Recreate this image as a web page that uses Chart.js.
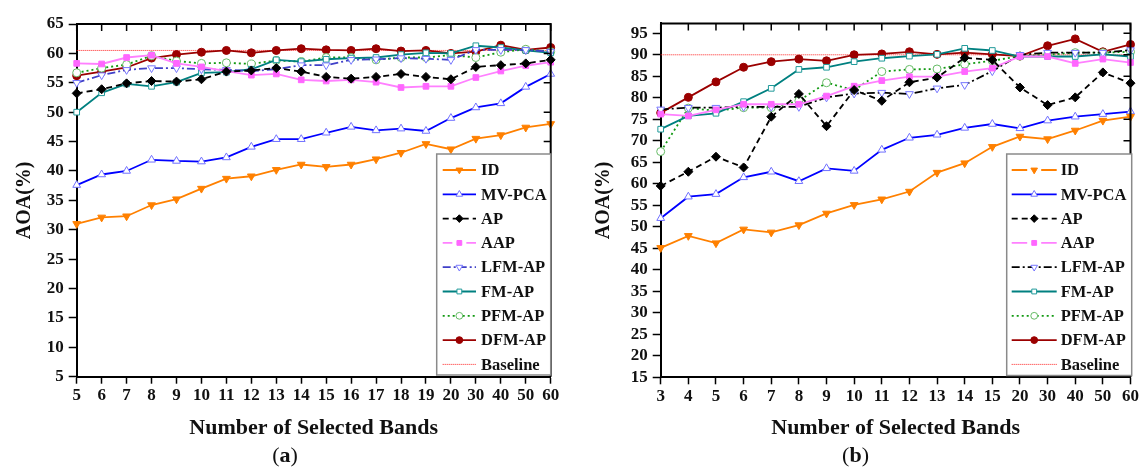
<!DOCTYPE html>
<html>
<head>
<meta charset="utf-8">
<script src="https://cdn.jsdelivr.net/npm/chart.js@4"></script>
<style>
  body { margin: 0; background: #fff; width: 1141px; height: 470px; position: relative; overflow: hidden;
         font-family: 'Liberation Serif', serif; color: #111; }
  .panel { position: absolute; top: 0; height: 470px; }
  #pa { left: 0; width: 570px; }
  #pb { left: 570px; width: 571px; }
  .cap { position: absolute; left: 0; top: 443px; width: 100%; text-align: center; font-size: 22px; line-height: 24px; }
</style>
</head>
<body>
<div class="panel" id="pa"><canvas id="chartA"></canvas><div class="cap">(<b>a</b>)</div></div>
<div class="panel" id="pb"><canvas id="chartB"></canvas><div class="cap">(<b>b</b>)</div></div>
<script>
// (a) band counts and AOA values
var catsA = ['5', '6', '7', '8', '9', '10', '11', '12', '13', '14', '15', '16', '17', '18', '19', '20', '30', '40', '50', '60'];
var ticksA = [5, 10, 15, 20, 25, 30, 35, 40, 45, 50, 55, 60, 65];
var idA    = [31.0, 32.1, 32.3, 34.2, 35.2, 37.0, 38.7, 39.1, 40.2, 41.1, 40.7, 41.1, 42.0, 43.1, 44.6, 43.7, 45.5, 46.1, 47.4, 48.0];
var mvpcaA = [37.6, 39.4, 40.0, 41.9, 41.7, 41.6, 42.3, 44.1, 45.4, 45.4, 46.5, 47.5, 46.9, 47.2, 46.8, 49.0, 50.8, 51.5, 54.3, 56.5];
var apA    = [53.2, 53.9, 54.9, 55.3, 55.2, 55.6, 56.9, 57.1, 57.5, 56.9, 56.0, 55.7, 56.0, 56.5, 56.0, 55.6, 57.7, 58.0, 58.3, 58.9];
var aapA   = [58.3, 58.2, 59.3, 59.7, 58.3, 57.7, 57.0, 56.3, 56.5, 55.5, 55.3, 55.5, 55.1, 54.2, 54.4, 54.4, 55.9, 57.0, 57.9, 58.5];
var lfmA   = [55.0, 56.3, 57.2, 57.5, 57.5, 57.3, 57.2, 57.0, 57.3, 58.0, 58.0, 58.9, 59.0, 59.2, 59.1, 58.9, 60.6, 60.6, 60.6, 60.3];
var fmA    = [50.0, 53.3, 54.8, 54.4, 55.1, 56.7, 56.8, 57.3, 58.9, 58.6, 59.0, 59.2, 59.3, 59.8, 60.1, 60.0, 61.3, 61.0, 60.5, 60.1];
var pfmA   = [56.7, 57.5, 58.1, 59.6, 58.7, 58.3, 58.4, 58.2, 58.8, 58.6, 59.3, 59.3, 58.9, 59.3, 59.3, 59.7, 59.3, 60.2, 60.7, 60.3];
var dfmA   = [56.2, 56.9, 57.6, 59.2, 59.8, 60.2, 60.5, 60.1, 60.5, 60.8, 60.6, 60.5, 60.8, 60.4, 60.5, 60.0, 60.3, 61.4, 60.6, 61.0];
var baseA  = [60.5, 60.5, 60.5, 60.5, 60.5, 60.5, 60.5, 60.5, 60.5, 60.5, 60.5, 60.5, 60.5, 60.5, 60.5, 60.5, 60.5, 60.5, 60.5, 60.5];

// (b)
var catsB = ['3', '4', '5', '6', '7', '8', '9', '10', '11', '12', '13', '14', '15', '20', '30', '40', '50', '60'];
var ticksB = [15, 20, 25, 30, 35, 40, 45, 50, 55, 60, 65, 70, 75, 80, 85, 90, 95];
var idB    = [45.1, 47.9, 46.2, 49.4, 48.7, 50.4, 53.1, 55.1, 56.4, 58.2, 62.6, 64.8, 68.6, 71.0, 70.4, 72.4, 74.7, 75.6];
var mvpcaB = [52.0, 57.0, 57.6, 61.5, 62.8, 60.6, 63.6, 63.0, 67.9, 70.7, 71.4, 73.0, 73.9, 72.9, 74.7, 75.6, 76.2, 76.8];
var apB    = [59.5, 62.8, 66.3, 63.8, 75.6, 80.9, 73.4, 81.8, 79.3, 83.6, 84.7, 89.3, 88.8, 82.4, 78.3, 80.1, 85.9, 83.4];
var aapB   = [76.2, 75.8, 77.2, 78.5, 78.5, 78.5, 80.4, 82.7, 84.0, 84.9, 84.9, 86.1, 86.9, 89.6, 89.6, 88.0, 89.0, 88.2];
var lfmB   = [77.3, 77.7, 77.7, 77.9, 77.9, 77.9, 80.1, 81.0, 81.2, 80.9, 82.2, 83.0, 86.2, 90.0, 90.5, 90.5, 90.5, 91.1];
var fmB    = [72.7, 75.8, 76.4, 79.1, 82.2, 86.6, 87.1, 88.4, 89.2, 89.7, 90.1, 91.5, 91.0, 89.6, 89.6, 89.6, 90.1, 89.6];
var pfmB   = [67.5, 77.6, 77.0, 77.7, 77.7, 79.3, 83.5, 81.8, 86.1, 86.6, 86.7, 87.8, 88.6, 89.7, 90.0, 90.5, 90.5, 90.7];
var dfmB   = [76.5, 80.1, 83.7, 87.1, 88.4, 89.0, 88.6, 90.0, 90.2, 90.7, 90.1, 90.5, 90.1, 89.7, 92.1, 93.7, 90.7, 92.4];
var baseB  = [90, 90, 90, 90, 90, 90, 90, 90, 90, 90, 90, 90, 90, 90, 90, 90, 90, 90];

var serif = "'Liberation Serif', 'Times New Roman', serif";

function line(label, data, color, dash, style, pointColor, hollow, radius, rotation) {
    return {
        label: label,
        data: data,
        borderColor: color,
        borderWidth: 1.8,
        borderDash: dash,
        pointStyle: style,
        pointRotation: rotation || 0,
        pointRadius: radius,
        pointBorderWidth: 1,
        pointBorderColor: pointColor,
        pointBackgroundColor: hollow ? '#fff' : pointColor,
        fill: false,
        tension: 0
    };
}

function datasetsA() {
    var d = [
        line('ID', idA, '#ff8000', [], 'triangle', '#ff8000', false, 4.5, 180),
        line('MV-PCA', mvpcaA, '#0000ff', [], 'triangle', '#7070ff', true, 4.5),
        line('AP', apA, '#000', [6, 4], 'rectRot', '#000', false, 4.5),
        line('AAP', aapA, '#ff80ff', [], 'rect', '#ff66ff', false, 4),
        line('LFM-AP', lfmA, '#4040c8', [8, 3, 2, 3], 'triangle', '#7777ff', true, 4.5, 180),
        line('FM-AP', fmA, '#008080', [], 'rect', '#209a9a', true, 4),
        line('PFM-AP', pfmA, '#119911', [2, 3], 'circle', '#66bb66', true, 4),
        line('DFM-AP', dfmA, '#9b0000', [], 'circle', '#9b0000', false, 4),
        line('Baseline', baseA, '#ff2020', [1, 1], 'circle', '#ff2020', false, 0)
    ];
    d[3].legendGap = 7;
    d[8].borderWidth = 1;
    return d;
}

function datasetsB() {
    var d = [
        line('ID', idB, '#ff8000', [], 'triangle', '#ff8000', false, 4.5, 180),
        line('MV-PCA', mvpcaB, '#0000ff', [], 'triangle', '#7070ff', true, 4.5),
        line('AP', apB, '#000', [6, 4], 'rectRot', '#000', false, 4.5),
        line('AAP', aapB, '#ff80ff', [], 'rect', '#ff66ff', false, 4),
        line('LFM-AP', lfmB, '#000', [8, 3, 2, 3], 'triangle', '#7777ff', true, 4.5, 180),
        line('FM-AP', fmB, '#008080', [], 'rect', '#209a9a', true, 4),
        line('PFM-AP', pfmB, '#119911', [2, 3], 'circle', '#66bb66', true, 4),
        line('DFM-AP', dfmB, '#9b0000', [], 'circle', '#9b0000', false, 4),
        line('Baseline', baseB, '#ff2020', [1, 1], 'circle', '#ff2020', false, 0)
    ];
    d[0].legendGap = 7;
    d[3].legendGap = 7;
    d[8].borderWidth = 1;
    return d;
}

// closed frame with inward ticks on top and right, plus the boxed legend
var framePlugin = {
    id: 'frame',
    afterDatasetsDraw: function (chart) {
        var ctx = chart.ctx, a = chart.chartArea;
        var xs = chart.scales.x, ys = chart.scales.y;
        ctx.save();
        ctx.strokeStyle = '#000';
        ctx.lineWidth = 2;
        ctx.beginPath();
        ctx.moveTo(a.left, a.top);
        ctx.lineTo(a.right, a.top);
        ctx.lineTo(a.right, a.bottom);
        ctx.stroke();
        ctx.lineWidth = 1.5;
        ctx.beginPath();
        xs.ticks.forEach(function (t, i) {
            var x = xs.getPixelForTick(i);
            ctx.moveTo(x, a.top);
            ctx.lineTo(x, a.top + 7);
        });
        ys.ticks.forEach(function (t) {
            var y = ys.getPixelForValue(t.value);
            ctx.moveTo(a.right, y);
            ctx.lineTo(a.right - 7, y);
        });
        ctx.stroke();

        var L = chart.options.plugins.frame;
        ctx.fillStyle = '#fff';
        ctx.fillRect(L.x, L.y, L.w, L.h);
        ctx.strokeStyle = '#8a8a8a';
        ctx.lineWidth = 1.5;
        ctx.strokeRect(L.x, L.y, L.w, L.h);
        ctx.font = 'bold 16.5px ' + serif;
        ctx.textBaseline = 'middle';
        chart.data.datasets.forEach(function (ds, i) {
            var y = L.first + i * L.step;
            var xm = (L.s0 + L.s1) / 2;
            ctx.strokeStyle = ds.borderColor;
            ctx.lineWidth = ds.borderWidth;
            ctx.setLineDash(ds.borderDash);
            ctx.beginPath();
            if (ds.legendGap) {
                ctx.moveTo(L.s0, y); ctx.lineTo(xm - ds.legendGap, y);
                ctx.moveTo(xm + ds.legendGap, y); ctx.lineTo(L.s1, y);
            } else {
                ctx.moveTo(L.s0, y); ctx.lineTo(L.s1, y);
            }
            ctx.stroke();
            ctx.setLineDash([]);
            if (ds.pointRadius > 0) {
                ctx.fillStyle = ds.pointBackgroundColor;
                ctx.strokeStyle = ds.pointBorderColor;
                ctx.lineWidth = 1;
                Chart.helpers.drawPoint(ctx, {
                    pointStyle: ds.pointStyle, rotation: ds.pointRotation,
                    radius: ds.pointRadius * 0.85, borderWidth: 1
                }, xm, y);
            }
            ctx.fillStyle = '#111';
            ctx.fillText(ds.label, L.tx, y + 1);
        });
        ctx.restore();
    }
};

function makeChart(id, cats, datasets, yTicks, yMin, yMax, geo) {
    var tickFont = { family: serif, size: 17, weight: 'bold' };
    return new Chart(document.getElementById(id).getContext('2d'), {
        type: 'line',
        data: { labels: cats, datasets: datasets },
        plugins: [framePlugin],
        options: {
            responsive: true,
            maintainAspectRatio: false,
            animation: false,
            layout: { padding: { left: 0, top: geo.top, right: geo.right, bottom: 0 } },
            plugins: {
                legend: { display: false },
                tooltip: { enabled: false },
                frame: geo.legend
            },
            scales: {
                x: {
                    grid: { drawOnChartArea: false, tickLength: 7, tickColor: '#000', tickWidth: 1.5 },
                    border: { color: '#000', width: 2 },
                    ticks: { font: tickFont, color: '#111', padding: 2, maxRotation: 0, autoSkip: false },
                    title: {
                        display: true, text: 'Number of Selected Bands', color: '#111',
                        font: { family: serif, size: 22, weight: 'bold' },
                        padding: { top: 0, bottom: 28 }
                    },
                    afterFit: function (s) { s.height = geo.xHeight; }
                },
                y: {
                    min: yMin,
                    max: yMax,
                    grid: { drawOnChartArea: false, tickLength: 8, tickColor: '#000', tickWidth: 1.5 },
                    border: { color: '#000', width: 2 },
                    ticks: { font: tickFont, color: '#111', padding: 5, autoSkip: false },
                    afterBuildTicks: function (s) {
                        s.ticks = yTicks.map(function (v) { return { value: v }; });
                    },
                    title: {
                        display: true, text: 'AOA(%)', color: '#111',
                        font: { family: serif, size: 20, weight: 'bold' },
                        padding: { top: geo.yTitle, bottom: 0 }
                    },
                    afterFit: function (s) { s.width = geo.yWidth; }
                }
            }
        }
    });
}

window.chartA = makeChart('chartA', catsA, datasetsA(), ticksA, 5, 65, {
    top: 24, right: 19.3, xHeight: 93.3, yWidth: 76.7, yTitle: 13,
    legend: { x: 436.7, y: 154, w: 114, h: 221, first: 170, step: 24.3, s0: 442.7, s1: 476, tx: 481 }
});
window.chartB = makeChart('chartB', catsB, datasetsB(), ticksB, 15, 97.3, {
    top: 23.4, right: 9, xHeight: 92.7, yWidth: 90.7, yTitle: 22,
    legend: { x: 436.7, y: 154, w: 125, h: 221.5, first: 170, step: 24.3, s0: 441.7, s1: 486.7, tx: 490.7 }
});
</script>
</body>
</html>
